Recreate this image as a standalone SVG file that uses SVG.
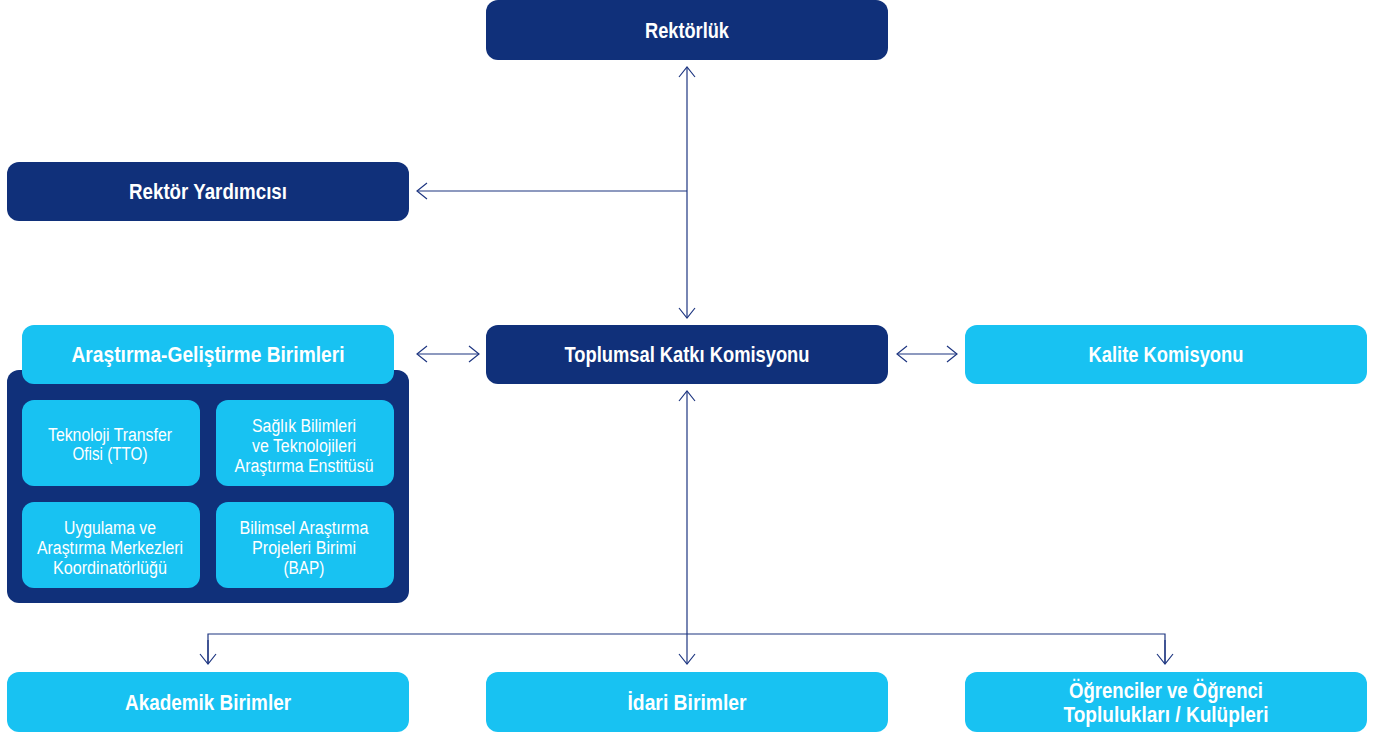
<svg xmlns="http://www.w3.org/2000/svg" width="1379" height="737" viewBox="0 0 1379 737">
<defs>
<style>
.dark{fill:#10307a;}
.light{fill:#18c2f2;}
.t{font-family:"Liberation Sans",Arial,sans-serif;font-weight:bold;font-size:22px;fill:#ffffff;text-anchor:middle;}
.s{font-family:"Liberation Sans",Arial,sans-serif;font-size:18px;fill:#ffffff;text-anchor:middle;}
.c{fill:none;stroke:#1d3580;stroke-width:1.2;}
</style>
<marker id="ah" markerUnits="userSpaceOnUse" viewBox="-12 -10 14 20" markerWidth="14" markerHeight="20" refX="0" refY="0" orient="auto-start-reverse">
<path d="M-10,-8 L0,0 L-10,8" fill="none" stroke="#1d3580" stroke-width="1.2"/>
</marker>
</defs>
<rect width="1379" height="737" fill="#ffffff"/>

<g id="connectors">
<line class="c" x1="687" y1="67" x2="687" y2="318" marker-start="url(#ah)" marker-end="url(#ah)"/>
<line class="c" x1="687" y1="191" x2="417" y2="191" marker-end="url(#ah)"/>
<line class="c" x1="417" y1="354" x2="479" y2="354" marker-start="url(#ah)" marker-end="url(#ah)"/>
<line class="c" x1="897" y1="354" x2="957" y2="354" marker-start="url(#ah)" marker-end="url(#ah)"/>
<line class="c" x1="687" y1="391" x2="687" y2="664" marker-start="url(#ah)" marker-end="url(#ah)"/>
<polyline class="c" points="208,664 208,634 1165,634 1165,664"/>
<line class="c" x1="208" y1="640" x2="208" y2="664" marker-end="url(#ah)"/>
<line class="c" x1="1165" y1="640" x2="1165" y2="664" marker-end="url(#ah)"/>
</g>

<g id="rektorluk">
<rect class="dark" x="486" y="0" width="402" height="60" rx="12"/>
<text class="t" x="687" y="38" textLength="84" lengthAdjust="spacingAndGlyphs">Rektörlük</text>
</g>

<g id="rektor-yardimcisi">
<rect class="dark" x="7" y="162" width="402" height="59" rx="12"/>
<text class="t" x="208" y="199" textLength="158" lengthAdjust="spacingAndGlyphs">Rektör Yardımcısı</text>
</g>

<g id="arge-container">
<rect class="dark" x="7" y="370" width="402" height="233" rx="12"/>
</g>

<g id="arge">
<rect class="light" x="22" y="325" width="372" height="59" rx="12"/>
<text class="t" x="208" y="362" textLength="273" lengthAdjust="spacingAndGlyphs">Araştırma-Geliştirme Birimleri</text>
</g>

<g id="tto">
<rect class="light" x="22" y="400" width="178" height="86" rx="12"/>
<text class="s" x="110" y="441" textLength="124" lengthAdjust="spacingAndGlyphs">Teknoloji Transfer</text>
<text class="s" x="110" y="460" textLength="75" lengthAdjust="spacingAndGlyphs">Ofisi (TTO)</text>
</g>

<g id="saglik">
<rect class="light" x="216" y="400" width="178" height="86" rx="12"/>
<text class="s" x="304" y="432" textLength="104" lengthAdjust="spacingAndGlyphs">Sağlık Bilimleri</text>
<text class="s" x="304" y="452" textLength="104" lengthAdjust="spacingAndGlyphs">ve Teknolojileri</text>
<text class="s" x="304" y="472" textLength="139" lengthAdjust="spacingAndGlyphs">Araştırma Enstitüsü</text>
</g>

<g id="uygulama">
<rect class="light" x="22" y="502" width="178" height="86" rx="12"/>
<text class="s" x="110" y="534" textLength="92" lengthAdjust="spacingAndGlyphs">Uygulama ve</text>
<text class="s" x="110" y="554" textLength="146" lengthAdjust="spacingAndGlyphs">Araştırma Merkezleri</text>
<text class="s" x="110" y="574" textLength="114" lengthAdjust="spacingAndGlyphs">Koordinatörlüğü</text>
</g>

<g id="bap">
<rect class="light" x="216" y="502" width="178" height="86" rx="12"/>
<text class="s" x="304" y="534" textLength="129" lengthAdjust="spacingAndGlyphs">Bilimsel Araştırma</text>
<text class="s" x="304" y="554" textLength="104" lengthAdjust="spacingAndGlyphs">Projeleri Birimi</text>
<text class="s" x="304" y="574" textLength="41" lengthAdjust="spacingAndGlyphs">(BAP)</text>
</g>

<g id="toplumsal">
<rect class="dark" x="486" y="325" width="402" height="59" rx="12"/>
<text class="t" x="687" y="362" textLength="245" lengthAdjust="spacingAndGlyphs">Toplumsal Katkı Komisyonu</text>
</g>

<g id="kalite">
<rect class="light" x="965" y="325" width="402" height="59" rx="12"/>
<text class="t" x="1166" y="362" textLength="155" lengthAdjust="spacingAndGlyphs">Kalite Komisyonu</text>
</g>

<g id="akademik">
<rect class="light" x="7" y="672" width="402" height="60" rx="12"/>
<text class="t" x="208" y="710" textLength="166" lengthAdjust="spacingAndGlyphs">Akademik Birimler</text>
</g>

<g id="idari">
<rect class="light" x="486" y="672" width="402" height="60" rx="12"/>
<text class="t" x="687" y="710" textLength="119" lengthAdjust="spacingAndGlyphs">İdari Birimler</text>
</g>

<g id="ogrenciler">
<rect class="light" x="965" y="672" width="402" height="60" rx="12"/>
<text class="t" x="1166" y="698" textLength="194" lengthAdjust="spacingAndGlyphs">Öğrenciler ve Öğrenci</text>
<text class="t" x="1166" y="722" textLength="205" lengthAdjust="spacingAndGlyphs">Toplulukları / Kulüpleri</text>
</g>
</svg>
